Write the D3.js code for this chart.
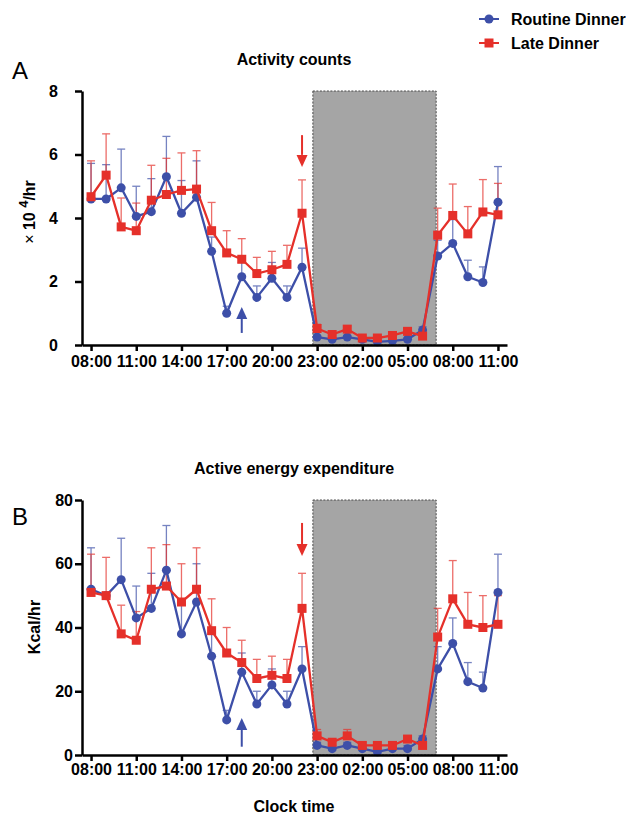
<!DOCTYPE html>
<html>
<head>
<meta charset="utf-8">
<script src="https://cdn.jsdelivr.net/npm/d3@7"></script>
<style>
  body { margin: 0; background: #fff; }
  svg text { font-family: "Liberation Sans", Arial, Helvetica, sans-serif; }
</style>
</head>
<body>
<svg id="chart" width="626" height="814"></svg>
<script>
////////////////////////////////////////////////////////////////////////
// Data (hourly, 08:00 day 1 through 11:00 day 2)

const tickIdx = [0, 3, 6, 9, 12, 15, 18, 21, 24, 27];
const tickLabels = ["08:00", "11:00", "14:00", "17:00", "20:00", "23:00", "02:00", "05:00", "08:00", "11:00"];

// lights-off window, in hours from 08:00
const nightStart = 14.72;
const nightEnd = 22.9;

const seriesNames = ["Routine Dinner", "Late Dinner"];
const seriesColors = ["#3d4fa8", "#e5302a"];

// A: activity counts (x 10^4 / hr), mean and mean + SEM
const routineActivity = [4.6, 4.6, 4.95, 4.05, 4.2, 5.3, 4.15, 4.65, 2.95, 1.0, 2.15, 1.5, 2.1, 1.5, 2.45,
  0.25, 0.18, 0.25, 0.18, 0.1, 0.13, 0.18, 0.47, 2.8, 3.2, 2.15, 1.97, 4.5];
const routineActivityUp = [5.72, 5.68, 6.17, 5.0, 5.24, 6.57, 5.18, 5.8, 3.4, 1.22, 2.6, 1.86, 2.6, 1.86, 3.05,
  0.3, 0.22, 0.3, 0.22, 0.14, 0.17, 0.22, 0.57, 3.3, 3.95, 2.67, 2.46, 5.62];
const lateActivity = [4.67, 5.35, 3.72, 3.6, 4.56, 4.74, 4.87, 4.91, 3.6, 2.9, 2.7, 2.25, 2.37, 2.54, 4.15,
  0.52, 0.33, 0.5, 0.22, 0.22, 0.3, 0.43, 0.28, 3.46, 4.08, 3.5, 4.19, 4.1];
const lateActivityUp = [5.8, 6.65, 4.63, 4.47, 5.66, 5.88, 6.05, 6.12, 4.49, 3.6, 3.35, 2.76, 2.95, 3.14, 5.2,
  0.65, 0.4, 0.6, 0.28, 0.28, 0.38, 0.52, 0.35, 4.31, 5.07, 4.36, 5.21, 5.09];

// B: active energy expenditure (kcal / hr)
const routineEnergy = [52, 50, 55, 43, 46, 58, 38, 48, 31, 11, 26, 16, 22, 16, 27,
  3, 2, 3, 2, 1, 2, 2, 5, 27, 35, 23, 21, 51];
const routineEnergyUp = [65, 51, 68, 53, 57, 72, 47, 60, 38, 14, 32, 20, 27, 20, 34,
  4, 3, 4, 3, 2, 3, 3, 6, 34, 43, 29, 26, 63];
const lateEnergy = [51, 50, 38, 36, 52, 53, 48, 52, 39, 32, 29, 24, 25, 24, 46,
  6, 4, 6, 3, 3, 3, 5, 3, 37, 49, 41, 40, 41];
const lateEnergyUp = [63, 62, 47, 45, 65, 66, 60, 65, 49, 40, 36, 30, 31, 30, 57,
  8, 5, 8, 4, 4, 4, 6, 4, 46, 61, 51, 50, 50];

// dinner arrows: series, hour index, tail value, tip value
const arrowsA = [[0, 10, 0.38, 1.2], [1, 14, 6.61, 5.61]];
const arrowsB = [[0, 10, 2.6, 11.6], [1, 14, 72.8, 62.4]];

////////////////////////////////////////////////////////////////////////
// Layout helpers

const svg = d3.select("#chart");
const x = d3.scaleLinear().domain([-0.6, 27.6]).range([82, 507]);

function drawMarker(g, s, cx, cy) {
  if (s === 0) {
    g.append("circle").attr("cx", cx).attr("cy", cy).attr("r", 4.5)
      .attr("fill", seriesColors[0]);
  } else {
    g.append("rect").attr("x", cx - 4.5).attr("y", cy - 4.5)
      .attr("width", 9).attr("height", 9).attr("fill", seriesColors[1]);
  }
}

function drawPanel(p) {
  const y = d3.scaleLinear().domain([0, p.yMax]).range([p.bottom, p.top]);
  const g = svg.append("g");

  // lights-off box
  g.append("rect")
    .attr("x", x(nightStart)).attr("y", y(p.yMax))
    .attr("width", x(nightEnd) - x(nightStart))
    .attr("height", y(0) - y(p.yMax))
    .attr("fill", "#a5a5a5")
    .attr("stroke", "#4a4a4a")
    .attr("stroke-width", 1)
    .attr("stroke-dasharray", "2,1.5");

  // error bars (upper only)
  p.means.forEach(function (vals, s) {
    const eg = g.append("g").attr("stroke", seriesColors[s]).attr("stroke-width", 1.3)
      .attr("opacity", 0.7);
    vals.forEach(function (v, i) {
      const up = p.upper[s][i];
      eg.append("line").attr("x1", x(i)).attr("x2", x(i)).attr("y1", y(v)).attr("y2", y(up));
      eg.append("line").attr("x1", x(i) - 4).attr("x2", x(i) + 4).attr("y1", y(up)).attr("y2", y(up));
    });
  });

  // lines and markers
  const line = d3.line().x(function (d, i) { return x(i); }).y(function (d) { return y(d); });
  p.means.forEach(function (vals, s) {
    g.append("path").attr("d", line(vals))
      .attr("fill", "none").attr("stroke", seriesColors[s]).attr("stroke-width", 2.3)
      .attr("stroke-linejoin", "round");
    vals.forEach(function (v, i) { drawMarker(g, s, x(i), y(v)); });
  });

  // arrows
  p.arrows.forEach(function (a) {
    const ax = x(a[1]), y1 = y(a[2]), y2 = y(a[3]);
    const dir = y2 > y1 ? 1 : -1;
    const base = y2 - dir * 12;
    g.append("line").attr("x1", ax).attr("x2", ax).attr("y1", y1).attr("y2", base)
      .attr("stroke", seriesColors[a[0]]).attr("stroke-width", 2);
    g.append("path")
      .attr("d", "M" + (ax - 5.5) + "," + base + "L" + (ax + 5.5) + "," + base + "L" + ax + "," + y2 + "Z")
      .attr("fill", seriesColors[a[0]]);
  });

  // axes
  const xAxis = g.append("g").attr("transform", "translate(0," + y(0) + ")")
    .call(d3.axisBottom(x).tickValues(tickIdx)
      .tickFormat(function (d, i) { return tickLabels[i]; })
      .tickSize(6).tickSizeOuter(0).tickPadding(p.xPad));
  const yAxis = g.append("g").attr("transform", "translate(82,0)")
    .call(d3.axisLeft(y).tickValues(p.yTicks).tickSize(7).tickSizeOuter(0).tickPadding(p.yPad));
  [xAxis, yAxis].forEach(function (ax) {
    ax.select(".domain").attr("stroke", "#000").attr("stroke-width", 2.5);
    ax.selectAll(".tick line").attr("stroke", "#000").attr("stroke-width", 2.5);
    ax.selectAll(".tick text").attr("fill", "#000").attr("font-size", 16)
      .attr("font-weight", "bold").attr("font-family", "'Liberation Sans', Arial, sans-serif");
  });

  // title and panel letter
  g.append("text").attr("x", 294).attr("y", p.titleY).attr("text-anchor", "middle")
    .attr("font-size", 16).attr("font-weight", "bold").text(p.title);
  g.append("text").attr("x", 12).attr("y", p.letterY)
    .attr("font-size", 24).text(p.letter);

  return g;
}

////////////////////////////////////////////////////////////////////////
// Panels

const gA = drawPanel({
  letter: "A", letterY: 79, title: "Activity counts", titleY: 65,
  top: 91, bottom: 345, yMax: 8, yTicks: [0, 2, 4, 6, 8], yPad: 17, xPad: 5,
  means: [routineActivity, lateActivity], upper: [routineActivityUp, lateActivityUp],
  arrows: arrowsA
});
const labA = gA.append("text")
  .attr("transform", "translate(35,212) rotate(-90)")
  .attr("text-anchor", "middle").attr("font-size", 16).attr("font-weight", "bold");
labA.append("tspan").attr("font-weight", "normal").text("× ");
labA.append("tspan").text("10 ");
labA.append("tspan").attr("dy", -7).attr("font-size", 13).text("4");
labA.append("tspan").attr("dy", 7).text("/hr");

const gB = drawPanel({
  letter: "B", letterY: 525, title: "Active energy expenditure", titleY: 474,
  top: 500, bottom: 755, yMax: 80, yTicks: [0, 20, 40, 60, 80], yPad: 2, xPad: 3,
  means: [routineEnergy, lateEnergy], upper: [routineEnergyUp, lateEnergyUp],
  arrows: arrowsB
});
gB.append("text")
  .attr("transform", "translate(40,627) rotate(-90)")
  .attr("text-anchor", "middle").attr("font-size", 16).attr("font-weight", "bold")
  .text("Kcal/hr");

svg.append("text").attr("x", 294).attr("y", 812).attr("text-anchor", "middle")
  .attr("font-size", 16).attr("font-weight", "bold").text("Clock time");

////////////////////////////////////////////////////////////////////////
// Legend

const legend = svg.append("g");
seriesNames.forEach(function (name, s) {
  const ly = 19 + s * 24;
  legend.append("line").attr("x1", 479).attr("x2", 499).attr("y1", ly).attr("y2", ly)
    .attr("stroke", seriesColors[s]).attr("stroke-width", 2);
  drawMarker(legend, s, 489, ly);
  legend.append("text").attr("x", 511).attr("y", ly + 6)
    .attr("font-size", 16).attr("font-weight", "bold").text(name);
});
</script>
</body>
</html>
